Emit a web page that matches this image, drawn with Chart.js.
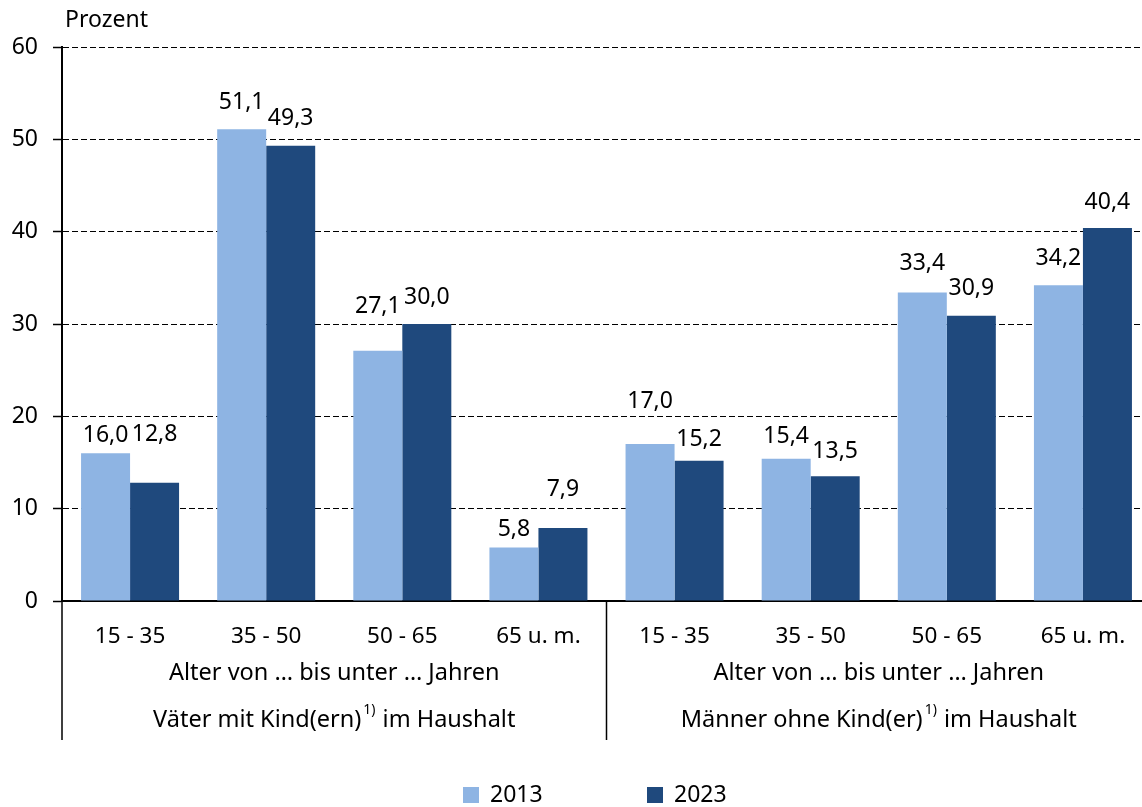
<!DOCTYPE html>
<html>
<head>
<meta charset="utf-8">
<script src="https://cdn.jsdelivr.net/npm/chart.js@4.4.0/dist/chart.umd.min.js"></script>
<style>
  html, body { margin: 0; padding: 0; background: #fff; overflow: hidden; }
  #wrap { width: 1160px; height: 807px; }
</style>
</head>
<body>
<div id="wrap"><canvas id="chart" width="1160" height="807"></canvas></div>
<script>
// Data
var ageGroups = ['15 - 35', '35 - 50', '50 - 65', '65 u. m.', '15 - 35', '35 - 50', '50 - 65', '65 u. m.'];
var values2013 = [16.0, 51.1, 27.1, 5.8, 17.0, 15.4, 33.4, 34.2];
var values2023 = [12.8, 49.3, 30.0, 7.9, 15.2, 13.5, 30.9, 40.4];
var yTicks = [0, 10, 20, 30, 40, 50, 60];
var groupAxisLabel = 'Alter von … bis unter … Jahren';
var groupNames = [['Väter mit Kind(ern)', ' im Haushalt'], ['Männer ohne Kind(er)', ' im Haushalt']];
var seriesNames = ['2013', '2023'];

// label placement above the bars (px), as in the original layout
var labelShift2013 = [-18, -27, -44, -18, -43, -22, -29, -27];
var labelShift2023 = [-48, -27, -27, -39, -21, -25, -27, -26];

var lightBlue = '#8eb4e3';
var darkBlue = '#1f497d';
var fontName = '"Noto Sans", "Open Sans", sans-serif';

var extras = {
    id: 'extras',
    afterDraw: function (chart) {
        var ctx = chart.ctx;
        var area = chart.chartArea;
        var xs = chart.scales.x;
        ctx.save();

        // value labels
        ctx.fillStyle = '#000';
        ctx.font = '23px ' + fontName;
        ctx.textAlign = 'center';
        ctx.textBaseline = 'middle';
        var shifts = [labelShift2013, labelShift2023];
        chart.data.datasets.forEach(function (ds, i) {
            chart.getDatasetMeta(i).data.forEach(function (bar, j) {
                ctx.fillText(ds.data[j].toFixed(1).replace('.', ','), bar.x, bar.y + shifts[i][j]);
            });
        });

        // Prozent
        ctx.textAlign = 'left';
        ctx.font = '23px ' + fontName;
        ctx.fillText('Prozent', 65, 20);

        // separator lines below axis
        var sepBottom = 740;
        var mid = (xs.getPixelForValue(3) + xs.getPixelForValue(4)) / 2;
        ctx.strokeStyle = '#000';
        ctx.lineWidth = 1.5;
        ctx.beginPath();
        ctx.moveTo(area.left, area.bottom);
        ctx.lineTo(area.left, sepBottom);
        ctx.moveTo(mid, area.bottom);
        ctx.lineTo(mid, sepBottom);
        ctx.stroke();

        // group labels
        var big = '23.5px ' + fontName;
        var small = '14px ' + fontName;
        var centers = [(area.left + mid) / 2, (mid + area.right) / 2];
        centers.forEach(function (cx, g) {
            ctx.textAlign = 'center';
            ctx.font = big;
            ctx.fillText(groupAxisLabel, cx, 673);
            var a = groupNames[g][0], b = groupNames[g][1];
            var wa = ctx.measureText(a).width;
            var wb = ctx.measureText(b).width;
            ctx.font = small;
            var ws = ctx.measureText('1)').width + 3;
            var x0 = cx - (wa + ws + wb) / 2;
            ctx.textAlign = 'left';
            ctx.font = big;
            ctx.fillText(a, x0, 720);
            ctx.font = small;
            ctx.fillText('1)', x0 + wa + 2, 710);
            ctx.font = big;
            ctx.fillText(b, x0 + wa + ws, 720);
        });

        // legend
        var legendX = [463, 647];
        var colors = [lightBlue, darkBlue];
        ctx.textAlign = 'left';
        ctx.font = '23px ' + fontName;
        seriesNames.forEach(function (name, i) {
            ctx.fillStyle = colors[i];
            ctx.fillRect(legendX[i], 787, 16, 16);
            ctx.fillStyle = '#000';
            ctx.fillText(name, legendX[i] + 27, 795);
        });

        ctx.restore();
    }
};

new Chart(document.getElementById('chart'), {
    type: 'bar',
    data: {
        labels: ageGroups,
        datasets: [{
            label: seriesNames[0],
            data: values2013,
            backgroundColor: lightBlue,
            categoryPercentage: 0.72,
            barPercentage: 1.0
        }, {
            label: seriesNames[1],
            data: values2023,
            backgroundColor: darkBlue,
            categoryPercentage: 0.72,
            barPercentage: 1.0
        }]
    },
    options: {
        responsive: false,
        animation: false,
        layout: { padding: { top: 47, right: 9, bottom: 66, left: 0 } },
        plugins: {
            legend: { display: false },
            tooltip: { enabled: false }
        },
        scales: {
            x: {
                grid: { display: false, drawTicks: false },
                border: { display: true, color: '#000', width: 2 },
                ticks: {
                    color: '#000',
                    font: { family: fontName, size: 22.5 },
                    padding: 22,
                    autoSkip: false,
                    maxRotation: 0
                },
                afterFit: function (s) { s.height = 140; }
            },
            y: {
                min: 0,
                max: 60,
                afterBuildTicks: function (s) {
                    s.ticks = yTicks.map(function (v) { return { value: v }; });
                },
                grid: {
                    color: '#000',
                    lineWidth: 1,
                    tickLength: 9,
                    tickColor: '#000',
                    tickBorderDash: [],
                    tickWidth: 1.5
                },
                border: { display: true, color: '#000', width: 2, dash: [6, 3] },
                ticks: {
                    color: '#000',
                    font: { family: fontName, size: 23 },
                    padding: 15
                },
                afterFit: function (s) { s.width = 62; }
            }
        }
    },
    plugins: [extras]
});
</script>
</body>
</html>
